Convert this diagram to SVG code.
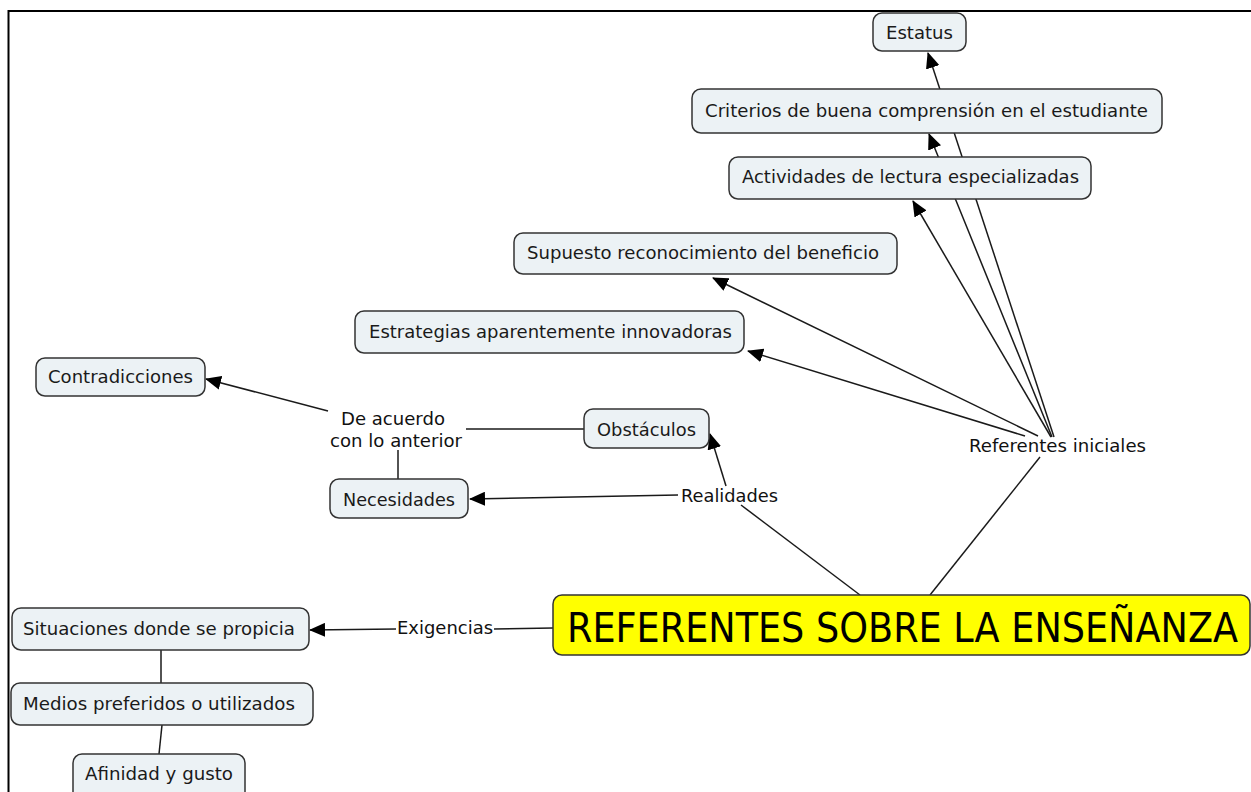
<svg xmlns="http://www.w3.org/2000/svg" width="1251" height="792" viewBox="0 0 1251 792">
<style>
.c rect{fill:#ECF2F5;stroke:#333;stroke-width:1.5}
.t{font-family:"DejaVu Sans","Verdana",sans-serif;font-size:17px;fill:#1a1a1a}
.l{font-family:"DejaVu Sans","Verdana",sans-serif;font-size:17px;fill:#111}
#links line{stroke:#1a1a1a;stroke-width:1.5;fill:none}
#links line.a{marker-end:url(#ah)}
</style>
<defs>
<marker id="ah" markerUnits="userSpaceOnUse" markerWidth="16" markerHeight="14" viewBox="0 0 16 14" refX="15" refY="7" orient="auto">
<path d="M0,0 L16,7 L0,14 z" fill="#000"/>
</marker>
</defs>
<rect x="0" y="0" width="1251" height="792" fill="#fff"/>
<path d="M8.5,792 V11 H1251" fill="none" stroke="#000" stroke-width="2"/>
<g id="links">
<line class="a" x1="1054" y1="437" x2="928" y2="53"/>
<line class="a" x1="1052" y1="437" x2="929" y2="134"/>
<line class="a" x1="1051" y1="437" x2="913" y2="201"/>
<line class="a" x1="1038" y1="436" x2="713" y2="278"/>
<line class="a" x1="1025" y1="436" x2="748" y2="351"/>
<line x1="930" y1="595" x2="1040" y2="457"/>
<line x1="860" y1="595" x2="741" y2="505"/>
<line class="a" x1="726" y1="486" x2="710" y2="434"/>
<line class="a" x1="678" y1="495" x2="470" y2="499"/>
<line x1="584" y1="429" x2="466" y2="429"/>
<line x1="398" y1="480" x2="398" y2="450"/>
<line class="a" x1="328" y1="411" x2="206" y2="379"/>
<line x1="553" y1="628" x2="494" y2="629"/>
<line class="a" x1="396" y1="629" x2="310" y2="630"/>
<line x1="161" y1="650" x2="161" y2="683"/>
<line x1="162" y1="725" x2="159" y2="754"/>
</g>
<g id="estatus" class="c"><rect x="873" y="13" width="93" height="38" rx="9"/><text class="t" x="886" y="39" textLength="67" lengthAdjust="spacingAndGlyphs">Estatus</text></g>
<g id="criterios" class="c"><rect x="692" y="89" width="470" height="44" rx="9"/><text class="t" x="705" y="117" textLength="443" lengthAdjust="spacingAndGlyphs">Criterios de buena comprensión en el estudiante</text></g>
<g id="actividades" class="c"><rect x="729" y="157" width="362" height="42" rx="9"/><text class="t" x="742" y="183" textLength="337" lengthAdjust="spacingAndGlyphs">Actividades de lectura especializadas</text></g>
<g id="supuesto" class="c"><rect x="514" y="233" width="383" height="41" rx="9"/><text class="t" x="527" y="259" textLength="352" lengthAdjust="spacingAndGlyphs">Supuesto reconocimiento del beneficio</text></g>
<g id="estrategias" class="c"><rect x="355" y="311" width="389" height="42" rx="9"/><text class="t" x="369" y="338" textLength="363" lengthAdjust="spacingAndGlyphs">Estrategias aparentemente innovadoras</text></g>
<g id="contradicciones" class="c"><rect x="36" y="358" width="169" height="38" rx="9"/><text class="t" x="48" y="383" textLength="145" lengthAdjust="spacingAndGlyphs">Contradicciones</text></g>
<g id="obstaculos" class="c"><rect x="584" y="409" width="125" height="39" rx="9"/><text class="t" x="597" y="436" textLength="99" lengthAdjust="spacingAndGlyphs">Obstáculos</text></g>
<g id="necesidades" class="c"><rect x="330" y="479" width="138" height="39" rx="9"/><text class="t" x="343" y="506" textLength="112" lengthAdjust="spacingAndGlyphs">Necesidades</text></g>
<g id="situaciones" class="c"><rect x="12" y="608" width="297" height="42" rx="9"/><text class="t" x="23" y="635" textLength="272" lengthAdjust="spacingAndGlyphs">Situaciones donde se propicia</text></g>
<g id="medios" class="c"><rect x="11" y="683" width="302" height="42" rx="9"/><text class="t" x="23" y="710" textLength="272" lengthAdjust="spacingAndGlyphs">Medios preferidos o utilizados</text></g>
<g id="afinidad" class="c"><rect x="73" y="754" width="172" height="48" rx="9"/><text class="t" x="85" y="780" textLength="148" lengthAdjust="spacingAndGlyphs">Afinidad y gusto</text></g>
<g id="main"><rect x="553" y="595" width="697" height="60" rx="9" fill="#FFFF00" stroke="#333" stroke-width="1.5"/><text x="567" y="642" font-family="'DejaVu Sans Condensed','DejaVu Sans',sans-serif" font-size="40" fill="#000" textLength="671" lengthAdjust="spacingAndGlyphs">REFERENTES SOBRE LA ENSEÑANZA</text></g>
<g id="lbl-deacuerdo"><text class="l" x="341" y="425" textLength="104" lengthAdjust="spacingAndGlyphs">De acuerdo</text><text class="l" x="330" y="446.5" textLength="132" lengthAdjust="spacingAndGlyphs">con lo anterior</text></g>
<g id="lbl-realidades"><text class="l" x="681" y="502" textLength="97" lengthAdjust="spacingAndGlyphs">Realidades</text></g>
<g id="lbl-referentes"><text class="l" x="969" y="452" textLength="177" lengthAdjust="spacingAndGlyphs">Referentes iniciales</text></g>
<g id="lbl-exigencias"><text class="l" x="397" y="634" textLength="96" lengthAdjust="spacingAndGlyphs">Exigencias</text></g>
</svg>
